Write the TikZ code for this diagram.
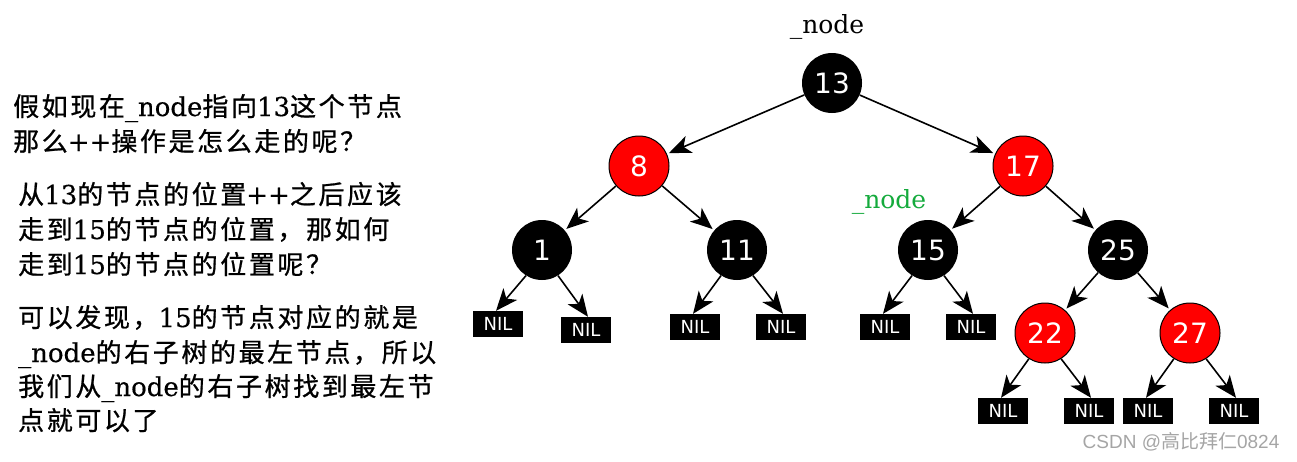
\documentclass[tikz,border=0pt]{standalone}
\usepackage{fontspec}
\setmainfont{DejaVu Serif}
\setsansfont{DejaVu Sans}
\newfontfamily\cjk[LetterSpace=10,FakeBold=0.8]{Noto Sans CJK SC}
\newfontfamily\cjkw{Noto Sans CJK SC}
\newfontfamily\wmsans{Liberation Sans}
\newfontfamily\txtserif[FakeBold=0.4]{DejaVu Serif}
\usetikzlibrary{arrows.meta}
\definecolor{nodegreen}{RGB}{20,170,60}
\definecolor{wmgray}{RGB}{165,165,165}
\tikzset{
  rbnode/.style={circle, minimum size=60pt, inner sep=0pt, text=white,
    font=\sffamily\fontsize{28}{28}\selectfont},
  blknode/.style={rbnode, fill=black},
  rednode/.style={rbnode, fill=red, draw=black, line width=1pt},
  nilbox/.style={fill=black, minimum width=50pt, minimum height=26pt, inner sep=0pt,
    text=white, font=\sffamily\fontsize{18}{18}\selectfont},
  arr/.style={-{Stealth[length=22pt,width=18pt,inset=6pt]}, line width=1.6pt},
  txt/.style={inner sep=0pt, anchor=base west, font=\txtserif\fontsize{26}{30}\selectfont},
  lbl/.style={inner sep=0pt, anchor=base, font=\fontsize{25}{30}\selectfont}
}
\begin{document}
\begin{tikzpicture}[x=1pt,y=-1pt]
\useasboundingbox (0,0) rectangle (1297,461);
% left text
\node[txt] (l1) at (13,116) {{\cjk 假如现在}\_node{\cjk 指向}13{\cjk 这个节点}};
\node[txt] (l2) at (13,151) {{\cjk 那么}++{\cjk 操作是怎么走的呢？}};
\node[txt] (l3) at (18,204) {{\cjk 从}13{\cjk 的节点的位置}++{\cjk 之后应该}};
\node[txt] (l4) at (18,239) {{\cjk 走到}15{\cjk 的节点的位置，那如何}};
\node[txt] (l5) at (18,274) {{\cjk 走到}15{\cjk 的节点的位置呢？}};
\node[txt] (l6) at (18,327) {{\cjk 可以发现，}15{\cjk 的节点对应的就是}};
\node[txt] (l7) at (18,362) {\_node{\cjk 的右子树的最左节点，所以}};
\node[txt] (l8) at (18,396) {{\cjk 我们从}\_node{\cjk 的右子树找到最左节}};
\node[txt] (l9) at (18,430) {{\cjk 点就可以了}};
% labels
\node[lbl] (top) at (827,33) {\_node};
\node[lbl, text=nodegreen] (grn) at (889,208) {\_node};
% tree nodes
\node[blknode] (n13) at (832,83) {13};
\node[rednode] (n8) at (639,166) {8};
\node[rednode] (n17) at (1023,166) {17};
\node[blknode] (n1) at (542,250) {1};
\node[blknode] (n11) at (737,250) {11};
\node[blknode] (n15) at (928,250) {15};
\node[blknode] (n25) at (1118,250) {25};
\node[rednode] (n22) at (1045,333) {22};
\node[rednode] (n27) at (1190,333) {27};
% NIL leaves
\node[nilbox] (nA) at (498,324) {NIL};
\node[nilbox] (nB) at (586,330) {NIL};
\node[nilbox] (nC) at (695,327) {NIL};
\node[nilbox] (nD) at (781,327) {NIL};
\node[nilbox] (nE) at (885,327) {NIL};
\node[nilbox] (nF) at (971,327) {NIL};
\node[nilbox] (nG) at (1003,411) {NIL};
\node[nilbox] (nH) at (1089,411) {NIL};
\node[nilbox] (nI) at (1148,411) {NIL};
\node[nilbox] (nJ) at (1234,411) {NIL};
% edges between circles
\draw[arr, shorten >=2pt] (n13) -- (n8);
\draw[arr, shorten >=2pt] (n13) -- (n17);
\draw[arr, shorten >=2pt] (n8) -- (n1);
\draw[arr, shorten >=2pt] (n8) -- (n11);
\draw[arr, shorten >=2pt] (n17) -- (n15);
\draw[arr, shorten >=2pt] (n17) -- (n25);
\draw[arr, shorten >=2pt] (n25) -- (n22);
\draw[arr, shorten >=2pt] (n25) -- (n27);
% edges to leaves
\draw[arr] (n1.238) -- ([xshift=-2pt]nA.north);
\draw[arr] (n1.302) -- ([xshift=2pt]nB.north);
\draw[arr] (n11.238) -- ([xshift=-2pt]nC.north);
\draw[arr] (n11.302) -- ([xshift=2pt]nD.north);
\draw[arr] (n15.238) -- ([xshift=-2pt]nE.north);
\draw[arr] (n15.302) -- ([xshift=2pt]nF.north);
\draw[arr] (n22.238) -- ([xshift=-2pt]nG.north);
\draw[arr] (n22.302) -- ([xshift=2pt]nH.north);
\draw[arr] (n27.238) -- ([xshift=-2pt]nI.north);
\draw[arr] (n27.302) -- ([xshift=2pt]nJ.north);
% watermark
\node[inner sep=0pt, text=wmgray, font=\fontsize{19}{19}\selectfont] (wm) at (1181,442)
  {{\wmsans CSDN @}{\cjkw 高比拜仁}{\wmsans 0824}};
\end{tikzpicture}
\end{document}
